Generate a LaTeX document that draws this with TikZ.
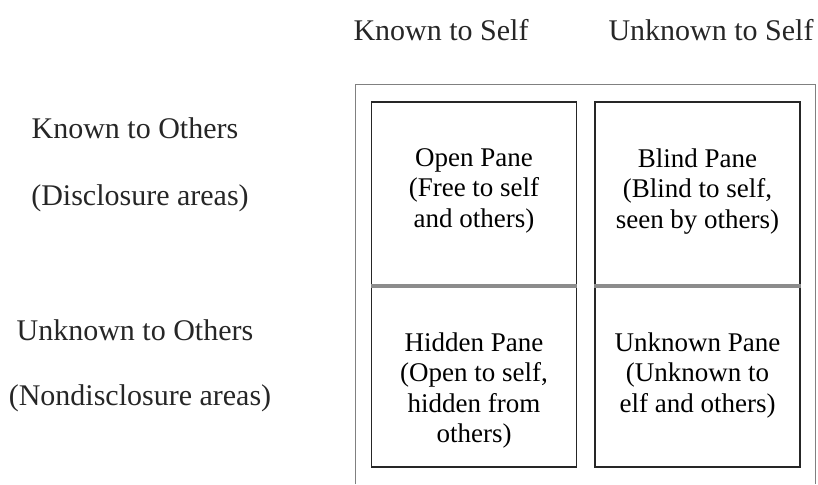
\documentclass[tikz,border=0pt]{standalone}
\usepackage{fontspec}
\setmainfont{Liberation Serif}
\tikzset{
  pane/.style={draw=black!85, line width=1.2pt, minimum width=205, minimum height=183, inner sep=0pt},
  panetext/.style={anchor=north, align=center, inner sep=0pt, font=\fontsize{27}{30.5}\selectfont},
  heading/.style={inner sep=0pt, font=\fontsize{30}{34}\selectfont, text=black!85},
  midline/.style={draw=black!45, line width=4pt},
  frame/.style={draw=black!50, line width=1pt}
}
\begin{document}
\begin{tikzpicture}[x=1pt, y=-1pt]
    \useasboundingbox (0,0) rectangle (818,484);
    % outer frame, runs off the page at the bottom
    \draw[frame] (355,484) -- (355,85) -- (815,85) -- (815,484);
    % column and row headings
    \node[heading] (kself) at (441,30) {Known to Self};
    \node[heading] (uself) at (711,30) {Unknown to Self};
    \node[heading] (kothers) at (135,128) {Known to Others};
    \node[heading] (disc) at (140,198) {(Disclosure areas)};
    \node[heading] (uothers) at (135,330) {Unknown to Others};
    \node[heading] (nondisc) at (140,398) {(Nondisclosure areas)};
    % the four panes
    \node[pane] (open) at (474,193.5) {};
    \node[pane] (blind) at (697.5,193.5) {};
    \node[pane, minimum height=182] (hidden) at (474,376) {};
    \node[pane, minimum height=182] (unknown) at (697.5,376) {};
    \draw[midline] (open.south west) -- (open.south east);
    \draw[midline] (blind.south west) -- (blind.south east);
    \node[panetext] (opentxt) at ([yshift=-47pt]open.north) {Open Pane\\(Free to self\\and others)};
    \node[panetext] (blindtxt) at ([yshift=-47pt]blind.north) {Blind Pane\\(Blind to self,\\seen by others)};
    \node[panetext] (hiddentxt) at ([yshift=-48pt]hidden.north) {Hidden Pane\\(Open to self,\\hidden from\\others)};
    \node[panetext] (unknowntxt) at ([yshift=-48pt]unknown.north) {Unknown Pane\\(Unknown to\\elf and others)};
\end{tikzpicture}
\end{document}
